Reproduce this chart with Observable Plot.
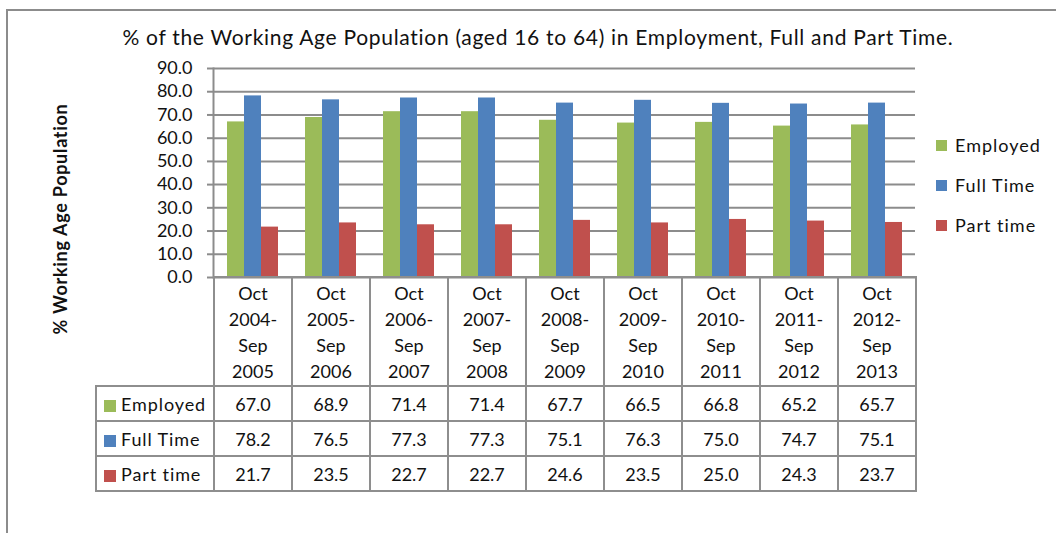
<!DOCTYPE html>
<html><head><meta charset="utf-8">
<script src="https://cdn.jsdelivr.net/npm/d3@7"></script>
<script src="https://cdn.jsdelivr.net/npm/@observablehq/plot@0.6"></script>
<style>
html,body{margin:0;padding:0;background:#fff;}
body{width:1056px;height:533px;overflow:hidden;font-family:Lato,"Open Sans",sans-serif;color:#111;}
#wrap{position:relative;width:1056px;height:533px;overflow:hidden;}
#frame{position:absolute;left:6px;top:9px;width:1100px;height:600px;border-left:2px solid #8c8c8c;border-top:2px solid #8c8c8c;}
#title{position:absolute;left:538px;top:25px;transform:translateX(-50%);white-space:nowrap;font-size:21px;letter-spacing:0.7px;line-height:24px;}
#ylabel{position:absolute;left:60px;top:219px;transform:translate(-50%,-50%) rotate(-90deg);white-space:nowrap;font-weight:bold;font-size:18px;letter-spacing:0.7px;line-height:20px;}
#chart{position:absolute;left:0;top:0;}
#legend{position:absolute;left:936px;top:133px;font-size:18px;letter-spacing:1px;}
#legend .item{height:40px;line-height:24px;display:flex;align-items:flex-start;}
#legend .sw{width:11px;height:11px;margin-top:7px;margin-right:8px;}
#table{position:absolute;left:95px;top:276px;border-collapse:collapse;table-layout:fixed;font-size:18px;}
#table td{border:2px solid #8e8e8e;padding:0;text-align:center;vertical-align:middle;}
#table tr.head td{height:107px;line-height:26px;}
#table tr.row td{height:33px;line-height:20px;}
#table td.corner{border-top:hidden;border-left:hidden;}
#table td.lab{text-align:left;padding-left:7px;white-space:nowrap;letter-spacing:0.9px;}
#table td.lab .sw{display:inline-block;width:12px;height:12px;margin-right:5px;vertical-align:-1px;}
</style>
</head><body>
<div id="wrap">
  <div id="frame"></div>
  <div id="chart"></div>
  <div id="title"></div>
  <div id="ylabel"></div>
  <div id="legend"></div>
  <table id="table"></table>
</div>
<script>
const titleText = "% of the Working Age Population (aged 16 to 64) in Employment, Full and Part Time.";
const yTitle = "% Working Age Population";
const categories = ["Oct 2004-Sep 2005","Oct 2005-Sep 2006","Oct 2006-Sep 2007","Oct 2007-Sep 2008","Oct 2008-Sep 2009","Oct 2009-Sep 2010","Oct 2010-Sep 2011","Oct 2011-Sep 2012","Oct 2012-Sep 2013"];
const categoryLines = [["Oct","2004-","Sep","2005"],["Oct","2005-","Sep","2006"],["Oct","2006-","Sep","2007"],["Oct","2007-","Sep","2008"],["Oct","2008-","Sep","2009"],["Oct","2009-","Sep","2010"],["Oct","2010-","Sep","2011"],["Oct","2011-","Sep","2012"],["Oct","2012-","Sep","2013"]];
const series = ["Employed","Full Time","Part time"];
const colors = ["#9BBB59","#4F81BD","#C0504D"];
const employed = [67.0,68.9,71.4,71.4,67.7,66.5,66.8,65.2,65.7];
const fullTime = [78.2,76.5,77.3,77.3,75.1,76.3,75.0,74.7,75.1];
const partTime = [21.7,23.5,22.7,22.7,24.6,23.5,25.0,24.3,23.7];
const yTicks = [0,10,20,30,40,50,60,70,80,90];

const values = [employed, fullTime, partTime];
const data = categories.flatMap((c,i)=>series.map((s,j)=>({cat:c, series:s, value:values[j][i]})));

const chart = Plot.plot({
  width:1056, height:533,
  marginLeft:213, marginRight:141, marginTop:68, marginBottom:256,
  style:{background:"transparent", fontFamily:"Lato, 'Open Sans', sans-serif", fontSize:"18px", color:"#111", overflow:"visible"},
  fx:{domain:categories, padding:0, axis:null, label:null},
  x:{domain:series, paddingInner:0, paddingOuter:0.76, axis:null},
  y:{domain:[0,90], axis:null},
  color:{domain:series, range:colors},
  marks:[
    Plot.ruleY(yTicks, {stroke:"#8c8c8c", strokeWidth:2, strokeOpacity:1}),
    Plot.barY(data, {fx:"cat", x:"series", y:"value", fill:"series"}),
    Plot.axisY({ticks:yTicks, tickFormat:d=>d.toFixed(1), tickSize:6, tickPadding:15, stroke:"#8c8c8c", strokeWidth:2, strokeOpacity:1, fill:"#111", fontSize:18, label:null, facetAnchor:"left"}),
    Plot.frame({anchor:"left", facetAnchor:"left", stroke:"#8c8c8c", strokeWidth:2, strokeOpacity:1})
  ]
});
document.getElementById("chart").appendChild(chart);

document.getElementById("title").textContent = titleText;
document.getElementById("ylabel").textContent = yTitle;

const legend = document.getElementById("legend");
series.forEach((s,j)=>{
  const it = document.createElement("div"); it.className="item";
  const sw = document.createElement("span"); sw.className="sw"; sw.style.background=colors[j];
  const tx = document.createElement("span"); tx.textContent=s;
  it.appendChild(sw); it.appendChild(tx); legend.appendChild(it);
});

const table = document.getElementById("table");
const colg = document.createElement("colgroup");
const c0 = document.createElement("col"); c0.style.width="118px"; colg.appendChild(c0);
categories.forEach(()=>{const c=document.createElement("col"); c.style.width="78px"; colg.appendChild(c);});
table.appendChild(colg);
const head = document.createElement("tr"); head.className="head";
const corner = document.createElement("td"); corner.className="corner"; head.appendChild(corner);
categoryLines.forEach(lines=>{const td=document.createElement("td"); td.innerHTML=lines.join("<br>"); head.appendChild(td);});
table.appendChild(head);
series.forEach((s,j)=>{
  const tr=document.createElement("tr"); tr.className="row";
  const lab=document.createElement("td"); lab.className="lab";
  const sw=document.createElement("span"); sw.className="sw"; sw.style.background=colors[j];
  lab.appendChild(sw); lab.appendChild(document.createTextNode(s)); tr.appendChild(lab);
  values[j].forEach(v=>{const td=document.createElement("td"); td.textContent=v.toFixed(1); tr.appendChild(td);});
  table.appendChild(tr);
});
</script>
</body></html>
